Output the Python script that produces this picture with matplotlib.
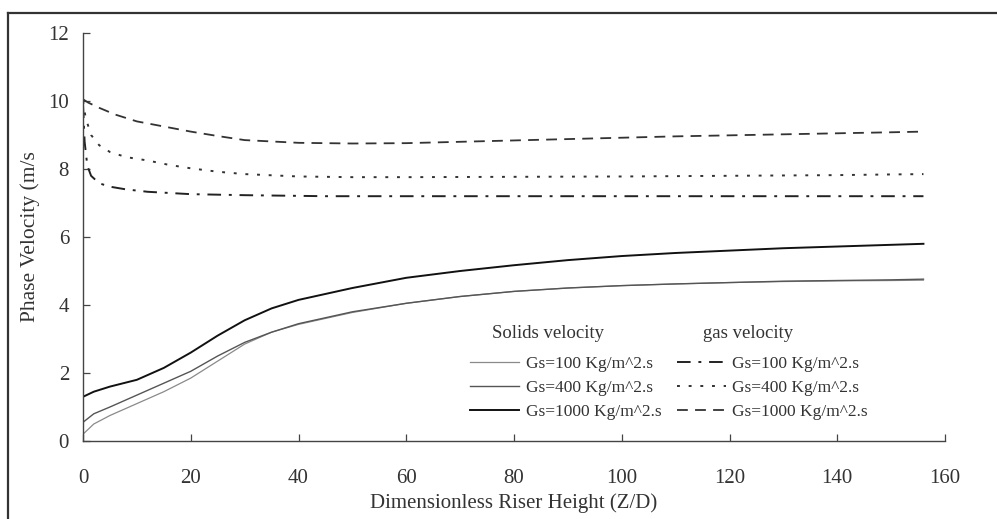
import matplotlib
matplotlib.use("Agg")
import matplotlib.pyplot as plt
from matplotlib.lines import Line2D

plt.rcParams['font.family'] = ['Liberation Serif', 'DejaVu Serif']

# Solids velocity profiles along the riser
zd_solids = [0, 2, 5, 10, 15, 20, 25, 30, 35, 40, 50, 60, 70, 80, 90, 100,
             110, 120, 130, 140, 150, 156]
solids_100 = [0.2, 0.5, 0.75, 1.1, 1.45, 1.85, 2.35, 2.85, 3.2, 3.43, 3.78, 4.05,
              4.25, 4.4, 4.5, 4.57, 4.62, 4.66, 4.69, 4.71, 4.72, 4.73]
solids_400 = [0.55, 0.8, 1.0, 1.35, 1.7, 2.05, 2.5, 2.9, 3.2, 3.45, 3.8, 4.05,
              4.25, 4.4, 4.5, 4.57, 4.62, 4.66, 4.7, 4.72, 4.74, 4.76]
solids_1000 = [1.3, 1.45, 1.6, 1.8, 2.15, 2.6, 3.1, 3.55, 3.9, 4.15, 4.5, 4.8,
               5.0, 5.17, 5.32, 5.44, 5.53, 5.6, 5.67, 5.72, 5.77, 5.8]

# Gas velocity profiles
zd_gas_100 = [0, 0.3, 0.8, 1.5, 3, 5, 8, 12, 20, 30, 45, 60, 80, 100, 120, 140, 156]
gas_100 = [9.9, 8.8, 8.1, 7.8, 7.58, 7.48, 7.4, 7.33, 7.26, 7.23, 7.2, 7.2, 7.2,
           7.2, 7.2, 7.2, 7.2]
zd_gas_400 = [0, 0.5, 1.5, 3, 5, 8, 12, 16, 20, 25, 30, 40, 50, 60, 80, 100, 120,
              140, 150, 156]
gas_400 = [10.0, 9.5, 9.0, 8.7, 8.5, 8.35, 8.25, 8.12, 8.02, 7.92, 7.85, 7.78,
           7.76, 7.76, 7.77, 7.78, 7.8, 7.82, 7.84, 7.85]
zd_gas_1000 = [0, 1, 3, 6, 10, 15, 20, 25, 30, 40, 50, 60, 70, 80, 90, 100, 110,
               120, 130, 140, 150, 156]
gas_1000 = [10.05, 9.95, 9.8, 9.6, 9.4, 9.25, 9.1, 8.97, 8.85, 8.77, 8.75, 8.76,
            8.8, 8.84, 8.88, 8.92, 8.96, 8.99, 9.02, 9.05, 9.08, 9.1]

labels = ['Gs=100 Kg/m^2.s', 'Gs=400 Kg/m^2.s', 'Gs=1000 Kg/m^2.s']

fig = plt.figure(figsize=(9.97, 5.19), dpi=100)
ax = fig.add_axes([83 / 997, 78 / 519, 862 / 997, 408 / 519])

h1, = ax.plot(zd_solids, solids_100, color='#8a8a8a', lw=0.9)
h2, = ax.plot(zd_solids, solids_400, color='#555555', lw=1.0)
h3, = ax.plot(zd_solids, solids_1000, color='#111111', lw=1.4)
g1, = ax.plot(zd_gas_100, gas_100, color='#222222', lw=1.4,
              linestyle=(0, (7, 4, 1.5, 4)))
g2, = ax.plot(zd_gas_400, gas_400, color='#333333', lw=1.4,
              linestyle=(0, (1.5, 4.5)))
g3, = ax.plot(zd_gas_1000, gas_1000, color='#333333', lw=1.3,
              linestyle=(0, (6, 4)))

ax.set_xlim(0, 160)
ax.set_ylim(0, 12)
ax.set_xticks(range(0, 161, 20))
ax.set_yticks(range(0, 13, 2))
ax.spines['top'].set_visible(False)
ax.spines['right'].set_visible(False)
for s in ('left', 'bottom'):
    ax.spines[s].set_color('#444444')
    ax.spines[s].set_linewidth(1.0)
ax.tick_params(axis='both', direction='in', length=5, width=0.9,
               color='#444444', labelsize=15, labelcolor='#333333')
ax.tick_params(axis='x', pad=20)
ax.tick_params(axis='y', pad=10)

ax.set_xlabel('Dimensionless Riser Height (Z/D)', fontsize=15, color='#333333')
ax.xaxis.set_label_coords(0.5, -0.128)
ax.set_ylabel('Phase Velocity (m/s', fontsize=15.5, color='#333333')
ax.yaxis.set_label_coords(-0.05, 0.5)

# legend: solids in the left column, gas in the right one
fig.legend([h1, h2, h3, g1, g2, g3], labels + labels, ncol=2, frameon=False,
           loc='upper left', bbox_to_anchor=(470 / 997, 1 - 356 / 519),
           borderpad=0, borderaxespad=0, fontsize=12.5, handlelength=2.85,
           handletextpad=0.35, columnspacing=0.9, labelspacing=0.45,
           labelcolor='#333333')
fig.text(492 / 997, 1 - 333 / 519, 'Solids velocity', fontsize=13.5,
         color='#333333', va='center', ha='left')
fig.text(703 / 997, 1 - 333 / 519, 'gas velocity', fontsize=13.5,
         color='#333333', va='center', ha='left')

# outer frame (left and top edges)
fig.add_artist(Line2D([8 / 997, 8 / 997], [0, 1 - 13 / 519],
                      transform=fig.transFigure, color='#333333', lw=1.6))
fig.add_artist(Line2D([8 / 997, 1], [1 - 13 / 519, 1 - 13 / 519],
                      transform=fig.transFigure, color='#333333', lw=1.6))

fig.savefig('out.png', dpi=100)
